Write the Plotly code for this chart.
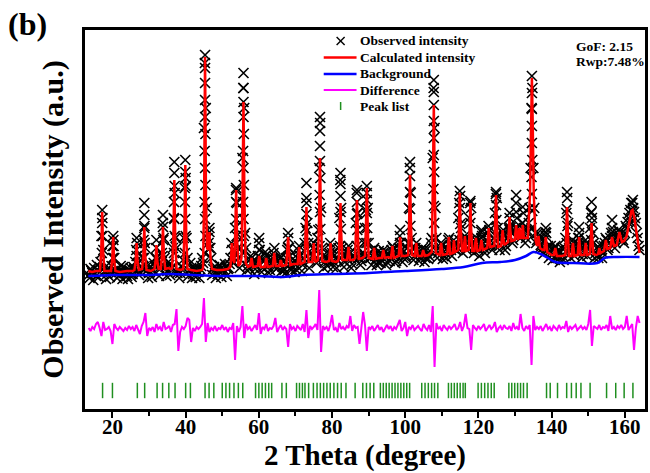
import numpy as np
import plotly.graph_objects as go

# ---------------- data ----------------
SCAN_START = 13.5
SCAN_STEP = 0.5

# observed intensity on the scan grid (arbitrary units)
OBS_Y = [
    133, 139, 135, 140, 132, 138, 141, 172, 158, 137,
    134, 140, 136, 162, 150, 135, 139, 133, 137, 141,
    135, 132, 138, 140, 134, 139, 158, 145, 136, 140,
    168, 160, 138, 135, 141, 137, 142, 160, 144, 139,
    155, 170, 141, 137, 143, 139, 160, 215, 160, 138,
    135, 141, 170, 230, 150, 137, 140, 134, 138, 141,
    136, 139, 150, 280, 300, 170, 176, 150, 139, 135,
    140, 137, 142, 138, 135, 141, 139, 144, 165, 145,
    180, 205, 150, 160, 250, 300, 160, 142, 139, 150,
    145, 139, 146, 165, 150, 140, 147, 153, 142, 138,
    144, 155, 150, 140, 145, 150, 141, 138, 150, 170,
    152, 141, 145, 139, 150, 162, 147, 143, 165, 205,
    165, 148, 152, 165, 150, 170, 240, 200, 152, 146,
    150, 147, 165, 155, 146, 150, 148, 190, 200, 152,
    146, 150, 162, 150, 144, 152, 185, 195, 150, 147,
    152, 180, 215, 165, 150, 152, 160, 149, 146, 152,
    148, 158, 151, 146, 153, 150, 162, 152, 147, 155,
    172, 158, 150, 153, 160, 200, 215, 160, 152, 165,
    155, 150, 153, 158, 150, 154, 152, 165, 250, 280,
    170, 155, 158, 163, 152, 155, 160, 170, 158, 160,
    165, 158, 190, 212, 165, 168, 170, 160, 190, 200,
    165, 160, 170, 158, 165, 172, 160, 162, 175, 178,
    163, 165, 195, 210, 170, 163, 176, 172, 162, 170,
    190, 175, 168, 180, 190, 172, 170, 185, 178, 170,
    175, 200, 300, 240, 175, 168, 172, 163, 160, 168,
    175, 162, 157, 153, 158, 162, 154, 150, 156, 152,
    160, 195, 185, 158, 163, 165, 156, 165, 175, 160,
    154, 162, 165, 160, 180, 190, 165, 155, 152, 160,
    158, 155, 165, 168, 160, 170, 180, 168, 165, 172,
    176, 170, 168, 175, 180, 190, 198, 205, 196, 185,
    170, 158,
]

# observed intensity at the intermediate scan steps (start + step/2)
OBS_Y_MID = [
    130, 137, 128, 134, 143, 131, 146, 190, 140, 129,
    138, 131, 142, 168, 138, 130, 136, 142, 129, 135,
    139, 129, 135, 131, 141, 146, 165, 133, 141, 150,
    182, 141, 130, 136, 131, 145, 150, 148, 132, 142,
    185, 150, 132, 146, 133, 141, 190, 170, 135, 130,
    142, 148, 220, 170, 132, 145, 130, 140, 131, 137,
    130, 142, 145, 345, 200, 165, 160, 133, 141, 130,
    134, 143, 131, 139, 144, 132, 140, 150, 158, 150,
    218, 160, 140, 170, 320, 175, 138, 147, 152, 146,
    134, 143, 152, 158, 136, 148, 156, 145, 135, 147,
    150, 160, 139, 148, 152, 137, 146, 135, 158, 160,
    138, 149, 136, 146, 158, 152, 137, 150, 180, 185,
    140, 155, 160, 158, 145, 178, 285, 160, 140, 152,
    142, 155, 160, 141, 153, 140, 160, 228, 160, 141,
    153, 158, 154, 140, 152, 150, 215, 160, 143, 155,
    165, 198, 200, 150, 143, 158, 152, 143, 157, 145,
    154, 156, 143, 155, 147, 158, 160, 145, 157, 160,
    165, 146, 157, 150, 165, 240, 170, 148, 160, 158,
    147, 158, 160, 146, 158, 149, 157, 170, 320, 200,
    150, 160, 165, 149, 160, 150, 168, 162, 152, 168,
    158, 160, 205, 180, 155, 172, 158, 165, 205, 165,
    155, 168, 160, 152, 176, 165, 155, 168, 182, 162,
    158, 170, 214, 180, 158, 170, 178, 158, 170, 180,
    180, 165, 178, 205, 172, 182, 175, 195, 165, 178,
    185, 240, 320, 200, 165, 175, 160, 168, 154, 176,
    160, 150, 162, 148, 160, 150, 158, 146, 160, 148,
    170, 210, 160, 150, 168, 152, 160, 170, 162, 150,
    160, 168, 152, 162, 195, 175, 150, 160, 150, 163,
    150, 162, 170, 158, 165, 175, 176, 160, 170, 178,
    168, 175, 165, 182, 186, 195, 205, 200, 190, 175,
    162,
]

# difference curve (offset below the pattern) on the scan grid
DIFF_Y = [
    80, 77, 81, 79, 84, 86, 80, 72, 86, 78,
    79, 81, 77, 64, 84, 80, 78, 81, 79, 77,
    80, 78, 82, 79, 81, 77, 83, 79, 74, 82,
    86, 95, 72, 80, 78, 81, 76, 84, 79, 81,
    77, 86, 79, 80, 82, 76, 83, 84, 99, 57,
    76, 81, 79, 82, 90, 88, 66, 80, 77, 81,
    79, 81, 84, 110, 66, 85, 76, 80, 78, 82,
    77, 80, 79, 83, 78, 81, 76, 80, 79, 85,
    48, 82, 76, 81, 102, 70, 84, 79, 81, 77,
    80, 83, 78, 95, 74, 81, 79, 84, 77, 80,
    79, 82, 90, 76, 80, 83, 78, 81, 79, 61,
    84, 79, 81, 77, 82, 80, 78, 84, 76, 98,
    70, 82, 79, 81, 84, 78, 118, 56, 82, 79,
    81, 77, 83, 93, 78, 80, 76, 85, 79, 81,
    78, 82, 80, 92, 77, 83, 80, 81, 64, 80,
    96, 83, 57, 81, 79, 82, 77, 80, 83, 78,
    81, 76, 80, 83, 79, 82, 77, 81, 79, 84,
    88, 77, 80, 86, 72, 81, 79, 83, 78, 80,
    82, 79, 77, 84, 80, 78, 83, 76, 102, 41,
    85, 79, 81, 77, 83, 80, 78, 82, 79, 81,
    84, 78, 80, 86, 77, 82, 94, 80, 79, 58,
    83, 80, 78, 82, 79, 81, 84, 77, 80, 83,
    79, 81, 86, 76, 80, 82, 78, 83, 80, 79,
    82, 77, 85, 79, 81, 78, 94, 80, 77, 82,
    79, 83, 43, 92, 78, 81, 79, 82, 77, 80,
    84, 79, 81, 77, 82, 80, 78, 83, 79, 81,
    80, 87, 76, 82, 79, 81, 83, 78, 80, 82,
    79, 81, 78, 84, 98, 62, 82, 80, 79, 83,
    78, 81, 80, 83, 77, 92, 79, 81, 78, 82,
    80, 83, 79, 81, 92, 78, 81, 84, 58, 80,
    92, 85,
]

# extra observed points climbing the sharp peaks
STACK_X = [
    17.1, 17.3, 17.2, 17.2,
    20.1, 20.3, 20.2,
    26.6, 26.6,
    28.6, 28.8, 28.7, 28.7, 28.7,
    32.0, 32.0,
    33.7, 33.9, 33.8, 33.8,
    36.8, 37.0, 36.9, 36.8, 37.0, 36.9, 36.9,
    39.8, 40.0, 39.9, 39.8, 40.0, 39.9, 39.9,
    45.2, 45.4, 45.3, 45.2, 45.4, 45.3, 45.2, 45.4, 45.3, 45.3, 45.3, 45.3, 45.3,
    46.5, 46.5,
    53.7, 53.9, 53.8, 53.8, 53.8,
    55.7, 55.9, 55.8, 55.7, 55.9, 55.8, 55.7, 55.9, 55.8, 55.8, 55.8, 55.8,
    60.1, 60.1,
    68.0, 68.0,
    72.9, 73.1, 73.0, 73.0, 73.0,
    76.6, 76.8, 76.7, 76.6, 76.8, 76.7, 76.7, 76.7, 76.7,
    82.2, 82.4, 82.3, 82.3, 82.3, 82.3,
    86.7, 86.9, 86.8, 86.8, 86.8,
    89.4, 89.6, 89.5, 89.5, 89.5,
    98.6, 98.6,
    101.2, 101.4, 101.3, 101.3, 101.3, 101.3,
    107.7, 107.9, 107.8, 107.7, 107.9, 107.8, 107.8, 107.8, 107.8, 107.8, 107.8,
    114.8, 115.0, 114.9, 114.9,
    117.8, 117.8, 117.8,
    120.8, 120.8,
    124.7, 124.9, 124.8, 124.8,
    128.5, 128.5,
    130.3, 130.3, 130.3,
    132.1, 132.1,
    134.5, 134.7, 134.6, 134.5, 134.7, 134.6, 134.6, 134.6, 134.6, 134.6,
    138.4, 138.4,
    144.1, 144.3, 144.2, 144.2,
    147.5, 147.5,
    150.8, 151.0, 150.9, 150.9,
    156.5, 156.5,
    161.8, 162.0, 162.2,
]
STACK_Y = [
    155, 172, 185, 198,
    150, 162, 172,
    152, 170,
    150, 165, 180, 193, 205,
    150, 168,
    152, 168, 181, 193,
    155, 172, 189, 206, 222, 235, 246,
    155, 172, 189, 206, 222, 236, 248,
    155, 172, 189, 206, 223, 240, 257, 274, 291, 308, 325, 340, 353,
    160, 180,
    155, 172, 189, 206, 220,
    155, 172, 189, 206, 223, 240, 257, 274, 291, 306, 320, 335,
    158, 170,
    160, 175,
    160, 177, 194, 210, 225,
    162, 179, 196, 213, 230, 247, 262, 277, 291,
    162, 179, 196, 212, 224, 235,
    162, 178, 194, 206, 218,
    165, 180, 195, 208, 222,
    165, 178,
    165, 182, 199, 216, 232, 246,
    168, 185, 202, 219, 236, 253, 270, 287, 303, 316, 328,
    168, 184, 200, 217,
    168, 185, 207,
    170, 178,
    172, 188, 203, 216,
    178, 195,
    180, 196, 213,
    185, 201,
    180, 197, 214, 231, 248, 265, 282, 299, 315, 332,
    172, 180,
    165, 182, 199, 216,
    170, 181,
    168, 185, 196, 206,
    172, 188,
    185, 197, 208,
]

# calculated profile (vertices of the refined curve)
CALC_X = [
    13.4, 14.5, 15.5, 16.6, 16.95, 17.2, 17.45, 17.8,
    19.6, 19.95, 20.2, 20.45, 20.8, 22.0, 24.0, 25.5,
    26.0, 26.35, 26.6, 26.85, 27.2, 27.8,
    28.1, 28.45, 28.7, 28.95, 29.3, 30.5, 31.2,
    31.5, 31.8, 32.0, 32.25, 32.6,
    33.2, 33.55, 33.8, 34.05, 34.4, 35.3, 35.9,
    36.3, 36.65, 36.9, 37.15, 37.5, 38.5,
    39.35, 39.65, 39.9, 40.15, 40.5, 41.5, 43.0, 44.5,
    44.75, 45.05, 45.3, 45.55, 45.85, 46.2, 46.5, 46.8, 47.2,
    48.5, 50.0, 51.5, 52.2, 52.4, 52.6, 52.85, 53.3,
    53.55, 53.8, 54.05, 54.4, 54.9,
    55.25, 55.55, 55.8, 56.05, 56.4, 57.0,
    57.6, 58.0, 58.4, 59.7, 60.1, 60.5, 61.6, 62.0, 62.4,
    63.8, 64.2, 64.6, 65.6, 66.0, 66.4,
    67.5, 67.8, 68.0, 68.25, 68.6, 69.5, 70.6, 71.0, 71.4,
    72.5, 72.78, 73.0, 73.22, 73.6, 74.6, 75.0, 75.4,
    76.15, 76.45, 76.7, 76.95, 77.3, 78.3, 79.2, 79.6, 80.0, 81.0, 81.6,
    81.85, 82.1, 82.3, 82.5, 82.8, 84.1, 84.5, 84.9, 85.8,
    86.3, 86.58, 86.8, 87.02, 87.3, 88.3,
    89.0, 89.28, 89.5, 89.72, 90.0, 91.1, 91.5, 91.9, 92.8,
    93.6, 94.0, 94.4, 95.3, 96.1, 96.5, 96.9, 97.8,
    98.2, 98.6, 99.0, 100.0,
    100.8, 101.08, 101.3, 101.52, 101.8, 102.6, 103.0, 103.4,
    104.5, 104.9, 105.3, 106.3,
    107.25, 107.55, 107.8, 108.05, 108.35, 109.4, 109.8, 110.2,
    111.5, 111.9, 112.3, 113.0, 113.3, 113.6,
    114.5, 114.7, 114.9, 115.1, 115.5, 115.95, 116.3, 116.65,
    117.35, 117.6, 117.8, 118.0, 118.3, 118.9, 119.3, 119.7,
    120.4, 120.8, 121.2, 121.8, 122.4, 122.8, 123.2,
    124.35, 124.6, 124.8, 125.0, 125.35, 126.2, 126.6, 127.0, 127.6,
    128.1, 128.3, 128.5, 128.7, 129.0, 129.9, 130.3, 130.7,
    131.0, 131.2, 131.5, 131.8, 132.1, 132.4,
    133.5, 134.1, 134.4, 134.6, 134.8, 135.1, 135.6,
    136.0, 136.4, 136.8, 137.6, 138.0, 138.4, 138.8, 140.0,
    140.6, 141.0, 141.4, 142.8,
    143.75, 144.0, 144.2, 144.4, 144.7, 145.4, 145.8, 146.2,
    147.1, 147.5, 147.9, 148.9, 149.3, 149.7,
    150.45, 150.7, 150.9, 151.1, 151.4, 152.2, 152.7, 153.0, 153.3,
    154.3, 154.8, 155.2, 156.0, 156.5, 157.0, 157.8, 158.5, 159.2, 159.8,
    160.5, 161.2, 161.8, 162.1, 162.6, 163.2, 164.0,
]
CALC_Y = [
    137, 136, 137, 137, 157, 196, 157, 137,
    137, 149, 171, 149, 137, 136, 137, 137,
    138, 147, 165, 147, 138, 139,
    139, 153, 181, 153, 138, 137, 139,
    139, 148, 163, 147, 139,
    139, 153, 181, 153, 139, 140, 139,
    140, 170, 228, 170, 139, 138,
    139, 175, 243, 175, 139, 138, 137, 138,
    140, 210, 351, 210, 160, 158, 176, 150, 139,
    138, 138, 139, 141, 148, 165, 150, 145,
    175, 218, 170, 142, 144,
    150, 215, 306, 210, 145, 141,
    142, 150, 141, 142, 152, 141, 141, 150, 141,
    142, 155, 142, 142, 148, 142,
    143, 155, 171, 155, 143, 144, 144, 161, 144,
    146, 168, 201, 168, 146, 146, 165, 146,
    148, 190, 250, 190, 147, 146, 147, 165, 147, 146, 147,
    150, 175, 205, 175, 148, 148, 161, 148, 148,
    150, 178, 208, 178, 149, 150,
    152, 185, 220, 185, 150, 149, 160, 149, 150,
    150, 158, 150, 151, 150, 162, 150, 151,
    152, 171, 152, 152,
    153, 190, 233, 190, 153, 152, 165, 152,
    152, 158, 152, 153,
    156, 225, 303, 225, 155, 153, 165, 153,
    154, 171, 154, 155, 168, 156,
    158, 185, 215, 185, 157, 157, 172, 157,
    158, 180, 205, 180, 157, 157, 170, 157,
    158, 168, 158, 159, 160, 180, 161,
    162, 188, 213, 188, 161, 162, 178, 163, 165,
    166, 178, 191, 178, 167, 168, 183, 168,
    170, 180, 170, 170, 183, 170,
    170, 215, 290, 330, 290, 215, 168,
    162, 172, 160, 158, 158, 171, 156, 153,
    153, 160, 152, 152,
    153, 178, 201, 178, 152, 152, 165, 152,
    153, 171, 153, 153, 165, 153,
    154, 170, 185, 170, 154, 153, 154, 160, 155,
    157, 168, 159, 160, 171, 162, 163, 176, 166, 167,
    172, 185, 197, 198, 190, 175, 155,
]

# refined background
BG_X = [13.4, 20, 30, 36, 42, 50, 60, 66, 72, 80, 90, 94, 100, 110, 116, 121,
        126, 130, 133, 135, 137, 139, 141, 146, 152.5, 154.5, 158, 164]
BG_Y = [132, 133, 133, 134, 133, 132, 132, 131, 133, 134, 135, 136, 137, 139,
        141, 145, 146, 148, 152, 156, 154, 150, 146, 145, 145, 150, 151, 151]

# Bragg peak positions (peak list)
PEAK_LIST = [
    17.3, 20.0, 26.8, 28.8, 32.2, 33.7, 35.4, 37.1, 40.0, 41.3,
    45.3, 46.4, 47.7, 50.0, 51.0, 52.0, 53.2, 54.4, 55.6,
    59.1, 60.0, 60.9, 61.8, 62.7, 63.5, 66.3, 67.5,
    70.3, 71.1, 71.9, 72.6, 73.6,
    74.9, 75.9, 76.8, 77.7, 78.6, 79.5, 80.5, 81.5, 82.5, 83.8,
    86.3, 88.4, 89.4, 90.4, 91.4,
    93.2, 94.0, 94.8, 95.6, 96.4, 97.2, 98.0, 98.8, 99.6, 100.4, 101.2,
    104.5, 105.4, 106.3, 107.2, 108.0, 108.9,
    111.8, 112.6, 113.4, 114.2, 115.0, 115.8, 116.4,
    119.9, 120.8, 121.7, 122.6, 123.5, 124.3,
    128.3, 129.1, 129.9, 130.7, 131.5, 132.3, 133.3,
    138.6, 139.6, 141.6,
    144.1, 145.4, 146.7, 148.0, 150.5,
    155.0, 157.5, 159.8, 162.2,
]
PEAK_LIST_LEVEL = 17.5

LEGEND_LABELS = ["Observed intensity", "Calculated intensity", "Background",
                 "Difference", "Peak list"]
FIT_LABELS = ["GoF: 2.15", "Rwp:7.48%"]

# ---------------- colours / layout ----------------
C_OBS = "black"
C_CALC = "#ff0000"
C_BG = "#0000ff"
C_DIFF = "#ff00ff"
C_PEAK = "#1f8f1f"
SERIF = "Liberation Serif"

W, H = 650, 473
ML, MR, MT, MB = 85, 2, 30, 64
PW, PH = W - ML - MR, H - MT - MB


def px2paper(px, py):
    return (px - ML) / PW, (H - MB - py) / PH


scan_x = SCAN_START + SCAN_STEP * np.arange(len(OBS_Y))
scan_x_mid = SCAN_START + SCAN_STEP / 2 + SCAN_STEP * np.arange(len(OBS_Y_MID))

cross = dict(symbol="x-thin", size=10, line=dict(color=C_OBS, width=1.6))

fig = go.Figure()
fig.add_trace(go.Scatter(x=scan_x, y=OBS_Y, mode="markers", marker=cross,
                         name=LEGEND_LABELS[0], showlegend=False))
fig.add_trace(go.Scatter(x=scan_x_mid, y=OBS_Y_MID, mode="markers", marker=cross,
                         name=LEGEND_LABELS[0], showlegend=False))
fig.add_trace(go.Scatter(x=STACK_X, y=STACK_Y, mode="markers", marker=cross,
                         name=LEGEND_LABELS[0], showlegend=False))
fig.add_trace(go.Scatter(x=CALC_X, y=CALC_Y, mode="lines", name=LEGEND_LABELS[1],
                         line=dict(color=C_CALC, width=2.5), showlegend=False))
fig.add_trace(go.Scatter(x=BG_X, y=BG_Y, mode="lines", name=LEGEND_LABELS[2],
                         line=dict(color=C_BG, width=2.5, shape="spline"),
                         showlegend=False))
fig.add_trace(go.Scatter(x=scan_x, y=DIFF_Y, mode="lines", name=LEGEND_LABELS[3],
                         line=dict(color=C_DIFF, width=2), showlegend=False))
fig.add_trace(go.Scatter(x=PEAK_LIST, y=[PEAK_LIST_LEVEL] * len(PEAK_LIST),
                         mode="markers", name=LEGEND_LABELS[4], showlegend=False,
                         marker=dict(symbol="line-ns", size=11,
                                     line=dict(color=C_PEAK, width=1.5))))

fig.update_layout(
    width=W, height=H,
    margin=dict(l=ML, r=MR, t=MT, b=MB),
    paper_bgcolor="white", plot_bgcolor="white",
    font=dict(family=SERIF, color="black", weight="bold"),
    showlegend=False,
)

fig.update_xaxes(
    range=[12.5, 165.5], dtick=20, tick0=0,
    ticks="outside", ticklen=6, tickwidth=2, tickcolor="black",
    minor=dict(dtick=10, tick0=0, ticks="outside", ticklen=4, tickwidth=2,
               tickcolor="black"),
    showline=True, linewidth=2.5, linecolor="black", mirror=True,
    showgrid=False, zeroline=False, ticklabelstandoff=-9,
    tickfont=dict(family=SERIF, size=21, weight="bold"),
    title=dict(text="2 Theta (degree)",
               font=dict(family=SERIF, size=29, weight="bold"), standoff=3),
)
fig.update_yaxes(
    range=[-1, 378], showticklabels=False, ticks="",
    showline=True, linewidth=2.5, linecolor="black", mirror=True,
    showgrid=False, zeroline=False,
    title=dict(text="Observed Intensity (a.u.)",
               font=dict(family=SERIF, size=30, weight="bold"), standoff=10),
)

# ---- hand-built legend (tight row spacing like the reference) ----
rows_py = [41, 57.5, 74, 90, 106]
sym_l, sym_r, sym_c, text_x = 325, 358, 342, 359
shapes = []
for dx, dy in [(-4, -4), (-4, 4)]:
    x0, y0 = px2paper(sym_c + dx, rows_py[0] + dy)
    x1, y1 = px2paper(sym_c - dx, rows_py[0] - dy)
    shapes.append(dict(type="line", xref="paper", yref="paper", x0=x0, y0=y0,
                       x1=x1, y1=y1, line=dict(color=C_OBS, width=1.4)))
for py, col, wd in [(rows_py[1], C_CALC, 2.5), (rows_py[2], C_BG, 2.5),
                    (rows_py[3], C_DIFF, 2)]:
    x0, y0 = px2paper(sym_l, py)
    x1, _ = px2paper(sym_r, py)
    shapes.append(dict(type="line", xref="paper", yref="paper", x0=x0, y0=y0,
                       x1=x1, y1=y0, line=dict(color=col, width=wd)))
x0, y0 = px2paper(sym_c, rows_py[4] - 4)
_, y1 = px2paper(sym_c, rows_py[4] + 4)
shapes.append(dict(type="line", xref="paper", yref="paper", x0=x0, y0=y0,
                   x1=x0, y1=y1, line=dict(color=C_PEAK, width=1.5)))
fig.update_layout(shapes=shapes)

for label, py in zip(LEGEND_LABELS, rows_py):
    x, y = px2paper(text_x, py)
    fig.add_annotation(text=label, xref="paper", yref="paper", x=x, y=y,
                       xanchor="left", yanchor="middle", showarrow=False,
                       font=dict(family=SERIF, size=13.5, weight="bold"))

for label, py in zip(FIT_LABELS, [47, 62]):
    x, y = px2paper(577, py)
    fig.add_annotation(text=label, xref="paper", yref="paper", x=x, y=y,
                       xanchor="left", yanchor="middle", showarrow=False,
                       font=dict(family=SERIF, size=13.5, weight="bold"))

x, y = px2paper(6, 24)
fig.add_annotation(text="(b)", xref="paper", yref="paper", x=x, y=y,
                   xanchor="left", yanchor="middle", showarrow=False,
                   font=dict(family=SERIF, size=32, weight="bold"))

fig.write_html("out.html")
